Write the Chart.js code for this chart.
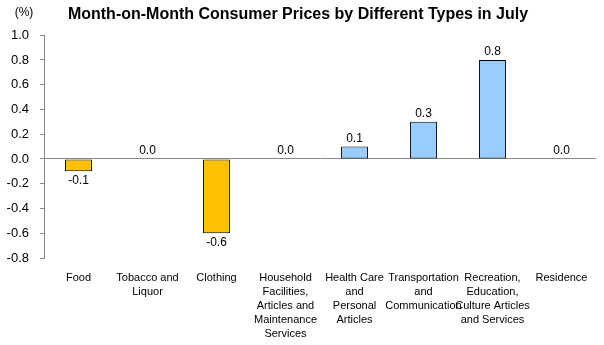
<!DOCTYPE html>
<html>
<head>
<meta charset="utf-8">
<script src="https://cdn.jsdelivr.net/npm/chart.js@4/dist/chart.umd.min.js"></script>
<style>
  html, body { margin: 0; padding: 0; background: #fff; }
  #wrap { width: 604px; height: 345px; }
</style>
</head>
<body>
<div id="wrap"><canvas id="myChart"></canvas></div>
<script>
// categories (multi-line labels as in the original)
var categories = [
    'Food',
    ['Tobacco and', 'Liquor'],
    'Clothing',
    ['Household', 'Facilities,', 'Articles and', 'Maintenance', 'Services'],
    ['Health Care', 'and', 'Personal', 'Articles'],
    ['Transportation', 'and', 'Communication'],
    ['Recreation,', 'Education,', 'Culture Articles', 'and Services'],
    'Residence'
];

// month-on-month change, %
var values = [-0.1, 0.0, -0.6, 0.0, 0.1, 0.3, 0.8, 0.0];

// y axis range
var yMin = -0.8;
var yMax = 1.0;
var yStep = 0.2;

var upColor = '#99CCFF';
var downColor = '#FFC000';

// writes the value above / below each bar, plus the "(%)" unit
var valueLabels = {
    id: 'valueLabels',
    afterDatasetsDraw: function(chart) {
        var ctx = chart.ctx;
        var meta = chart.getDatasetMeta(0);
        ctx.save();
        ctx.font = '12px Arial, "Liberation Sans", sans-serif';
        ctx.fillStyle = '#000';
        ctx.textAlign = 'center';
        meta.data.forEach(function(bar, i) {
            var v = values[i];
            if (v < 0) {
                ctx.textBaseline = 'top';
                ctx.fillText(v.toFixed(1), bar.x, bar.y + 3);
            } else {
                ctx.textBaseline = 'bottom';
                ctx.fillText(v.toFixed(1), bar.x, bar.y - 2);
            }
        });
        ctx.textBaseline = 'middle';
        ctx.fillText('(%)', 24, 13);
        ctx.restore();
    }
};

var myChart = new Chart(document.getElementById('myChart'), {
    type: 'bar',
    data: {
        labels: categories,
        datasets: [{
            data: values,
            backgroundColor: values.map(function(v) { return v < 0 ? downColor : upColor; }),
            borderColor: '#000',
            borderWidth: 1,
            borderSkipped: false,
            categoryPercentage: 1.0,
            barPercentage: 0.39
        }]
    },
    options: {
        responsive: true,
        maintainAspectRatio: false,
        animation: false,
        layout: { padding: { left: 0, right: 8, bottom: 0 } },
        plugins: {
            legend: { display: false },
            tooltip: { enabled: false },
            title: {
                display: true,
                text: 'Month-on-Month Consumer Prices by Different Types in July',
                color: '#000',
                font: { family: 'Arial, "Liberation Sans", sans-serif', size: 16, weight: 'bold' },
                padding: { top: 5, bottom: 11 }
            }
        },
        scales: {
            x: {
                grid: { display: false },
                border: { display: false },
                ticks: {
                    color: '#000',
                    font: { family: 'Arial, "Liberation Sans", sans-serif', size: 11, lineHeight: 1.27 },
                    maxRotation: 0,
                    autoSkip: false,
                    padding: 5
                },
                afterFit: function(scale) { scale.height = 87; }
            },
            y: {
                min: yMin,
                max: yMax,
                border: { display: true, color: '#888', width: 1 },
                grid: {
                    drawOnChartArea: true,
                    color: function(c) { return c.tick && Math.abs(c.tick.value) < 1e-9 ? '#888' : 'rgba(0,0,0,0)'; },
                    tickColor: '#888',
                    tickLength: 4
                },
                ticks: {
                    stepSize: yStep,
                    color: '#000',
                    font: { family: 'Arial, "Liberation Sans", sans-serif', size: 13 },
                    padding: 11,
                    callback: function(v) { return Number(v).toFixed(1); }
                },
                afterFit: function(scale) { scale.width = 44; }
            }
        }
    },
    plugins: [valueLabels]
});
</script>
</body>
</html>
